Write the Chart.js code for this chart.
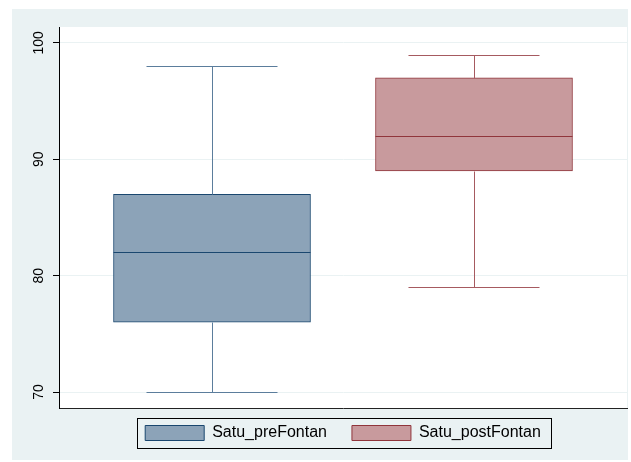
<!DOCTYPE html>
<html>
<head>
<meta charset="utf-8">
<script src="https://cdn.jsdelivr.net/npm/chart.js@4"></script>
<style>
  body { margin: 0; background: #ffffff; }
  #wrap { position: absolute; left: 12px; top: 9px; width: 616px; height: 451px; }
</style>
</head>
<body>
<div id="wrap"><canvas id="box" width="616" height="451"></canvas></div>
<script>
"use strict";

const groups = ["Satu_preFontan", "Satu_postFontan"];
const positions = [1, 2];
const mins = [70, 79];
const q1s = [76, 89];
const medians = [82, 92];
const q3s = [87, 97];
const maxs = [98, 99];
const yTicks = [70, 80, 90, 100];

const fills = ["#8ca3b8", "#c89a9d"];
const lines = ["#1a476f", "#90353b"];
const whiskerColors = ["#5b7d9c", "#a65a60"];

const framePlugin = {
  id: "stataFrame",
  afterLayout(chart) {
    // pull the legend up a little, closer to the plot
    if (chart.legend) {
      chart.legend.top -= 8;
      chart.legend.bottom -= 8;
    }
  },
  beforeDraw(chart) {
    const { ctx, chartArea: a } = chart;
    ctx.save();
    ctx.fillStyle = "#eaf2f3";
    ctx.fillRect(0, 0, chart.width, chart.height);
    ctx.fillStyle = "#ffffff";
    ctx.fillRect(a.left, a.top, a.right - a.left, a.bottom - a.top);
    ctx.restore();
  },
  afterDraw(chart) {
    const boxes = chart.legend && chart.legend.legendHitBoxes;
    if (!boxes || !boxes.length) return;
    const left = Math.min(...boxes.map((b) => b.left)) - 8;
    const right = Math.max(...boxes.map((b) => b.left + b.width)) + 10;
    const top = Math.min(...boxes.map((b) => b.top)) - 7;
    const bottom = Math.max(...boxes.map((b) => b.top + b.height)) + 7;
    const { ctx } = chart;
    ctx.save();
    ctx.strokeStyle = "#000000";
    ctx.lineWidth = 1;
    ctx.strokeRect(Math.round(left) + 0.5, Math.round(top) + 0.5, Math.round(right - left), Math.round(bottom - top));
    ctx.restore();
  }
};

// whiskers, caps and medians, placed through the chart scales
const whiskerPlugin = {
  id: "whiskers",
  afterDatasetsDraw(chart) {
    const { ctx, scales } = chart;
    const xs = scales.x;
    const ys = scales.y;
    ctx.save();
    ctx.lineWidth = 1;
    chart.data.datasets.forEach((ds, i) => {
      const bar = chart.getDatasetMeta(i).data[0];
      const cx = Math.round(xs.getPixelForValue(positions[i])) + 0.5;
      const capL = xs.getPixelForValue(positions[i] - 0.25);
      const capR = xs.getPixelForValue(positions[i] + 0.25);
      const py = (v) => Math.round(ys.getPixelForValue(v)) + 0.5;

      ctx.strokeStyle = whiskerColors[i];
      ctx.beginPath();
      ctx.moveTo(cx, py(q3s[i]));
      ctx.lineTo(cx, py(maxs[i]));
      ctx.moveTo(capL, py(maxs[i]));
      ctx.lineTo(capR, py(maxs[i]));
      ctx.moveTo(cx, py(q1s[i]));
      ctx.lineTo(cx, py(mins[i]));
      ctx.moveTo(capL, py(mins[i]));
      ctx.lineTo(capR, py(mins[i]));
      ctx.stroke();

      ctx.strokeStyle = lines[i];
      ctx.beginPath();
      ctx.moveTo(bar.x - bar.width / 2, py(medians[i]));
      ctx.lineTo(bar.x + bar.width / 2, py(medians[i]));
      ctx.stroke();
    });
    ctx.restore();
  }
};

new Chart(document.getElementById("box"), {
  type: "bar",
  data: {
    datasets: groups.map((name, i) => ({
      label: name,
      data: [{ x: positions[i], y: [q1s[i], q3s[i]] }],
      backgroundColor: fills[i],
      borderColor: lines[i],
      borderWidth: 1,
      borderSkipped: false,
      barThickness: 197,
      grouped: false
    }))
  },
  options: {
    responsive: false,
    devicePixelRatio: 1,
    animation: false,
    layout: { padding: { top: 18, right: 1, left: 0, bottom: 1 } },
    scales: {
      x: {
        type: "linear",
        offset: false,
        min: 0.416,
        max: 2.584,
        grid: { display: false },
        ticks: { display: false },
        border: { display: true, color: "#222222", width: 1 },
        afterFit(scale) { scale.height = 0; }
      },
      y: {
        min: 68.63,
        max: 101.37,
        afterBuildTicks(scale) {
          scale.ticks = yTicks.map((v) => ({ value: v }));
        },
        afterFit(scale) { scale.width = 47; },
        grid: { color: "#eaf2f3", tickColor: "#000000", tickLength: 6, lineWidth: 1 },
        border: { display: true, color: "#000000", width: 1 },
        ticks: {
          minRotation: 90,
          maxRotation: 90,
          crossAlign: "center",
          padding: 2,
          color: "#000000",
          font: { family: "Liberation Sans, Arial", size: 14 }
        }
      }
    },
    plugins: {
      legend: {
        position: "bottom",
        fullSize: false,
        labels: {
          boxWidth: 59,
          boxHeight: 15,
          padding: 25,
          color: "#000000",
          font: { family: "Liberation Sans, Arial", size: 16 }
        }
      },
      tooltip: { enabled: false }
    }
  },
  plugins: [framePlugin, whiskerPlugin]
});
</script>
</body>
</html>
